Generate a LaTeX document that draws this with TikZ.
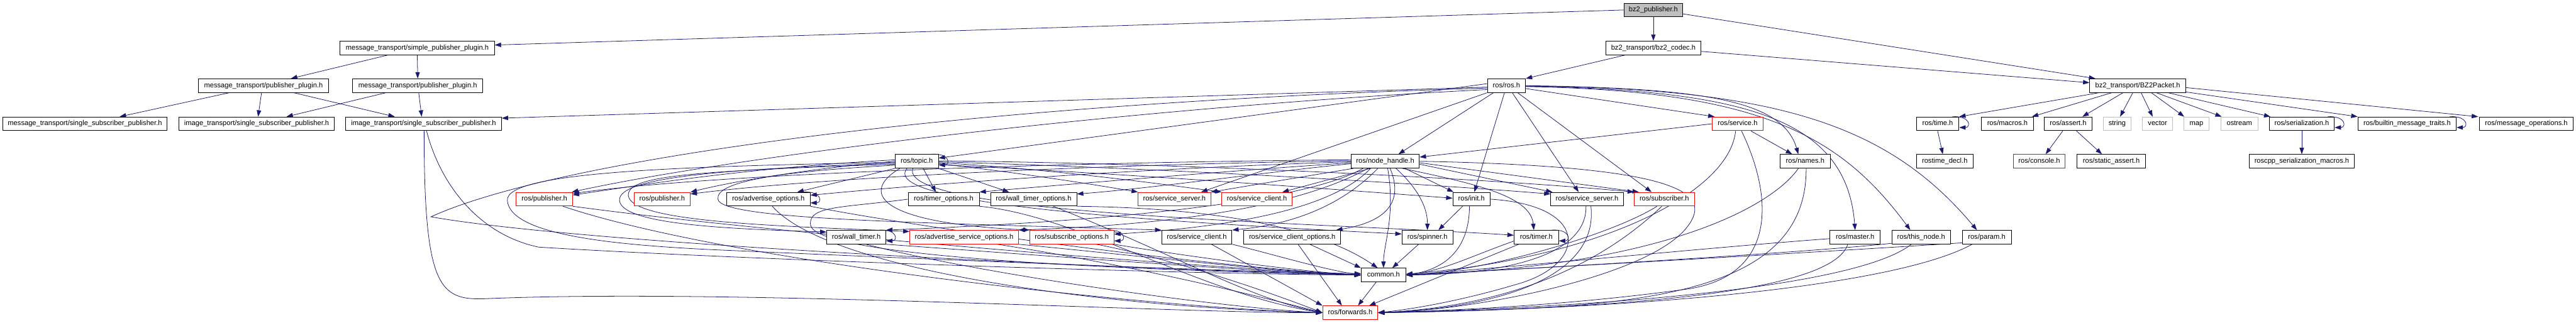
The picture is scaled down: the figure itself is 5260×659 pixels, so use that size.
\documentclass[tikz,border=0pt]{standalone}
\usepackage{fontspec}
\setmainfont{Liberation Sans}
\usetikzlibrary{arrows.meta,calc}
\pgfdeclarelayer{background}
\pgfdeclarelayer{edges}
\pgfsetlayers{background,edges,main}
\definecolor{edgec}{HTML}{191970}
\definecolor{gborder}{HTML}{BFBFBF}
\newcommand\fs{\fontsize{14.3pt}{17pt}\selectfont}
\newcommand\selfloop[1]{\draw[e] ($(#1.north east)+(-14,0)$) .. controls +(38,-2) and +(24,0) .. ($(#1.south east)+(0,-7)$);}
\tikzset{
  box/.style={draw=black, line width=1.1pt, fill=white, minimum height=28pt, inner sep=0pt, font=\fs, text height=10.3pt, text depth=3pt},
  rbox/.style={box, draw=red},
  gbox/.style={box, draw=gborder},
  e/.style={draw=edgec, line width=1pt, -{Triangle[length=13pt,width=9pt]}},
}
\begin{document}
\begin{tikzpicture}[x=1pt,y=-1pt]
\begin{pgfonlayer}{background}
\fill[white] (0,0) rectangle (5260,659);
\end{pgfonlayer}
\useasboundingbox (0,0) rectangle (5260,659);
% row 0-2
\node[box, fill=gborder, minimum width=120pt] (bzpub) at (3376,20.4) {bz2\_publisher.h};
\node[box, minimum width=315pt] (simplepp) at (852,98) {message\_transport/simple\_publisher\_plugin.h};
\node[box, minimum width=194pt] (codec) at (3376,98) {bz2\_transport/bz2\_codec.h};
\node[box, minimum width=265pt] (pp1) at (538,175) {message\_transport/publisher\_plugin.h};
\node[box, minimum width=266pt] (pp2) at (853,175) {message\_transport/publisher\_plugin.h};
\node[box, minimum width=78pt] (rosh) at (3076,175) {ros/ros.h};
\node[box, minimum width=196pt] (packet) at (4365,175) {bz2\_transport/BZ2Packet.h};
% row 3
\node[box, minimum width=336pt] (mssp) at (173.4,253) {message\_transport/single\_subscriber\_publisher.h};
\node[box, minimum width=318pt] (issp1) at (524,253) {image\_transport/single\_subscriber\_publisher.h};
\node[box, minimum width=318pt] (issp2) at (865,253) {image\_transport/single\_subscriber\_publisher.h};
\node[rbox, minimum width=103pt] (service) at (3548,253) {ros/service.h};
\node[box, minimum width=87pt] (time) at (3956.5,253) {ros/time.h};
\node[box, minimum width=106pt] (macros) at (4099,253) {ros/macros.h};
\node[box, minimum width=98pt] (assert) at (4223,253) {ros/assert.h};
\node[gbox, minimum width=57pt] (string) at (4323,253) {string};
\node[gbox, minimum width=61pt] (vector) at (4405.5,253) {vector};
\node[gbox, minimum width=51pt] (map) at (4485,253) {map};
\node[gbox, minimum width=76pt] (ostream) at (4572.5,253) {ostream};
\node[box, minimum width=133pt] (serial) at (4700,253) {ros/serialization.h};
\node[box, minimum width=201pt] (builtin) at (4915,253) {ros/builtin\_message\_traits.h};
\node[box, minimum width=192pt] (msgops) at (5158.6,253) {ros/message\_operations.h};
% row 4
\node[box, minimum width=88pt] (topic) at (1872,329.6) {ros/topic.h};
\node[box, minimum width=139.5pt] (nh) at (2828.5,329.6) {ros/node\_handle.h};
\node[box, minimum width=102pt] (names) at (3686,329.6) {ros/names.h};
\node[box, minimum width=116pt] (rostimedecl) at (3971,329.6) {rostime\_decl.h};
\node[rbox, minimum width=106pt] (console) at (4164,329.6) {ros/console.h};
\node[box, minimum width=140pt] (staticassert) at (4311,329.6) {ros/static\_assert.h};
\node[box, minimum width=215pt] (sermacros) at (4700,329.6) {roscpp\_serialization\_macros.h};
% row 5
\node[rbox, minimum width=115pt] (pub1) at (1111.6,407) {ros/publisher.h};
\node[rbox, minimum width=115pt] (pub2) at (1352,407) {ros/publisher.h};
\node[box, minimum width=170.5pt] (advopt) at (1569,407) {ros/advertise\_options.h};
\node[box, minimum width=145pt] (timeropt) at (1927,407) {ros/timer\_options.h};
\node[box, minimum width=176pt] (wtimeropt) at (2110.5,407) {ros/wall\_timer\_options.h};
\node[rbox, minimum width=148pt] (ssrv1) at (2398,407) {ros/service\_server.h};
\node[rbox, minimum width=143.5pt] (scli1) at (2566.5,407) {ros/service\_client.h};
\node[box, minimum width=76pt] (init) at (3004.5,407) {ros/init.h};
\node[box, minimum width=148pt] (ssrv2) at (3240.5,407) {ros/service\_server.h};
\node[rbox, minimum width=123pt] (subscriber) at (3398.3,407) {ros/subscriber.h};
% row 6
\node[box, minimum width=120.5pt] (wtimer) at (1748.5,484.7) {ros/wall\_timer.h};
\node[rbox, minimum width=222pt] (advsrvopt) at (1968.6,484.7) {ros/advertise\_service\_options.h};
\node[rbox, minimum width=172pt] (subopt) at (2188.5,484.7) {ros/subscribe\_options.h};
\node[box, minimum width=143.5pt] (scli2) at (2443.8,484.7) {ros/service\_client.h};
\node[box, minimum width=198pt] (scliopt) at (2638.6,484.7) {ros/service\_client\_options.h};
\node[box, minimum width=104pt] (spinner) at (2914.6,484.7) {ros/spinner.h};
\node[box, minimum width=91pt] (timer) at (3137,484.7) {ros/timer.h};
\node[box, minimum width=103pt] (master) at (3788,484.7) {ros/master.h};
\node[box, minimum width=120pt] (thisnode) at (3922.7,484.7) {ros/this\_node.h};
\node[box, minimum width=100pt] (param) at (4056.7,484.7) {ros/param.h};
% row 7-8
\node[box, minimum width=91pt] (common) at (2825,562) {common.h};
\node[rbox, minimum width=112.5pt] (fwd) at (2757,639) {ros/forwards.h};

\begin{pgfonlayer}{edges}
% ---- top edges
\draw[e] (bzpub.west) -- ($(simplepp.east)+(0,-6)$);
\draw[e] (bzpub.south) -- (codec.north);
\draw[e] ($(bzpub.east)+(0,8)$) -- ($(packet.north west)+(12,0)$);
\draw[e] ($(codec.south west)+(40,0)$) -- (rosh.north east);
\draw[e] ($(codec.east)+(0,7)$) -- ($(packet.west)+(0,-6)$);
\draw[e] ($(simplepp.south)+(-60,0)$) -- ($(pp1.north)+(56,0)$);
\draw[e] (simplepp.south) -- (pp2.north);
\draw[e] ($(pp1.south)+(-70,0)$) -- ($(mssp.north)+(71,0)$);
\draw[e] ($(pp1.south)+(-4,0)$) -- ($(issp1.north)+(3,0)$);
\draw[e] ($(pp1.south)+(62,0)$) -- ($(issp2.north)+(-59,0)$);
\draw[e] ($(pp2.south)+(-65,0)$) -- ($(issp1.north)+(61,0)$);
\draw[e] ($(pp2.south)+(2,0)$) -- ($(issp2.north)+(-4,0)$);
\draw[e] ($(rosh.west)+(0,3)$) -- ($(issp2.north east)+(0,3)$);
% ---- BZ2Packet
\draw[e] ($(packet.south)+(-79,0)$) -- (time.north east);
\draw[e] ($(packet.south)+(-53,0)$) -- ($(macros.north)+(50,0)$);
\draw[e] ($(packet.south)+(-30,0)$) -- ($(assert.north)+(29,0)$);
\draw[e] ($(packet.south)+(-10,0)$) -- ($(string.north)+(6,0)$);
\draw[e] ($(packet.south)+(7,0)$) -- ($(vector.north)+(-10,0)$);
\draw[e] ($(packet.south)+(28,0)$) -- ($(map.north)+(-25,0)$);
\draw[e] ($(packet.south)+(38,0)$) -- ($(ostream.north)+(-36,0)$);
\draw[e] ($(packet.south)+(62,0)$) -- ($(serial.north west)+(3,0)$);
\draw[e] ($(packet.south east)+(-3,-2)$) -- (builtin.north west);
\draw[e] ($(packet.east)+(0,4)$) -- ($(msgops.north west)+(-2,0)$);
\selfloop{time}
\draw[e] (time.south) -- ($(rostimedecl.north)+(-4,0)$);
\draw[e] ($(assert.south)+(-11,0)$) -- ($(console.north)+(13,0)$);
\draw[e] ($(assert.south)+(17,0)$) -- ($(staticassert.north)+(-19,0)$);
\selfloop{serial}
\draw[e] (serial.south) -- (sermacros.north);
\selfloop{builtin}
% ---- ros.h
\draw[e] ($(rosh.south west)+(13,0)$) -- ($(nh.north)+(27,0)$);
\draw[e] ($(rosh.south)+(-4,0)$) -- ($(init.north)+(6,0)$);
\draw[e] ($(rosh.south)+(12,0)$) -- ($(ssrv2.north)+(-17,0)$);
\draw[e] ($(rosh.south)+(23,0)$) -- ($(subscriber.north)+(-26,0)$);
\draw[e] ($(rosh.east)+(0,6)$) -- ($(service.north west)+(5,0)$);
\draw[e] (rosh.east) .. controls (3480,180) and (3640,205) .. ($(names.north)+(-14,0)$);
\draw[e] ($(rosh.east)+(0,1)$) .. controls (3560,185) and (3770,240) .. (master.north);
\draw[e] ($(rosh.east)+(0,2)$) .. controls (3600,185) and (3760,280) .. ($(thisnode.north)+(-22,0)$);
\draw[e] ($(rosh.east)+(0,1)$) .. controls (3640,180) and (3860,260) .. ($(param.north)+(-20,0)$);
\draw[e] ($(rosh.west)+(0,-4)$) -- ($(topic.north east)+(0,8)$);
\draw[e] (rosh.south west) -- ($(ssrv1.north east)+(-20,0)$);
\draw[e] ($(rosh.west)+(0,8)$) .. controls (2300,220) and (1500,320) .. ($(pub1.north east)+(-2,0)$);
\draw[e] ($(rosh.west)+(0,5)$) .. controls (2000,210) and (1150,320) .. (880,443) .. controls (1200,500) and (2300,550) .. (common.west);
% ---- topic.h
\selfloop{topic}
\draw[e] ($(topic.south)+(13,0)$) -- ($(timeropt.north)+(-16,0)$);
\draw[e] (topic.south east) -- ($(wtimeropt.north)+(-50,0)$);
\draw[e] ($(topic.east)+(0,5)$) .. controls (2100,355) and (2250,380) .. (ssrv1.north west);
\draw[e] ($(topic.east)+(0,3)$) .. controls (2150,345) and (2400,380) .. (scli1.north west);
\draw[e] (topic.south west) -- ($(advopt.north)+(59,0)$);
\draw[e] ($(topic.west)+(0,-3)$) .. controls (1500,345) and (1300,380) .. ($(pub1.north east)+(0,6)$);
\draw[e] (topic.west) .. controls (1650,345) and (1500,370) .. (pub2.north east);
\draw[e] ($(topic.west)+(0,4)$) .. controls (1500,345) and (1260,360) .. (1265,410) .. controls (1270,460) and (1500,468) .. ($(wtimer.north west)+(0,4)$);
\draw[e] ($(topic.west)+(0,6)$) .. controls (1400,350) and (1280,360) .. (1283,400) .. controls (1290,455) and (1600,462) .. ($(advsrvopt.north west)+(0,3)$);
\draw[e] ($(topic.west)+(0,8)$) .. controls (1600,350) and (1460,370) .. (1466,407) .. controls (1470,450) and (1900,455) .. (scli2.north west);
\draw[e] ($(topic.south west)+(10,0)$) .. controls (1760,390) and (1780,455) .. (subopt.north west);
\draw[e] ($(topic.south)+(-20,0)$) .. controls (1790,420) and (2400,455) .. ($(spinner.north west)+(0,8)$);
\draw[e] ($(topic.south)+(-8,0)$) .. controls (1830,440) and (2700,455) .. ($(timer.west)+(0,-4)$);
\draw[e] ($(topic.east)+(0,7)$) .. controls (2300,355) and (2700,385) .. ($(init.west)+(0,-2)$);
\draw[e] ($(topic.east)+(0,1)$) .. controls (2400,345) and (2900,375) .. ($(ssrv2.north west)+(0,4)$);
\draw[e] ($(topic.east)+(0,-1)$) .. controls (2500,335) and (3100,370) .. (subscriber.north west);
\draw[e] ($(topic.west)+(0,2)$) .. controls (1400,340) and (1030,350) .. (1036,410) .. controls (1042,480) and (1250,500) .. (1450,510) .. controls (1900,530) and (2500,555) .. ($(common.west)+(0,-3)$);
% ---- node_handle.h
\draw[e] ($(nh.west)+(0,-3)$) .. controls (2300,330) and (1500,350) .. ($(pub1.north east)+(0,3)$);
\draw[e] ($(nh.west)+(0,-1)$) .. controls (2300,335) and (1700,360) .. ($(pub2.north east)+(0,4)$);
\draw[e] ($(nh.west)+(0,1)$) .. controls (2300,345) and (1850,380) .. ($(advopt.east)+(0,-8)$);
\draw[e] ($(nh.west)+(0,3)$) .. controls (2500,350) and (2200,375) .. (timeropt.north east);
\draw[e] ($(nh.west)+(0,5)$) .. controls (2600,350) and (2350,385) .. ($(wtimeropt.north east)+(0,4)$);
\draw[e] ($(nh.south west)+(5,0)$) -- (ssrv1.north east);
\draw[e] ($(nh.south west)+(40,0)$) -- ($(scli1.north)+(52,0)$);
\draw[e] ($(nh.south west)+(25,0)$) .. controls (2650,420) and (2200,455) .. (wtimer.north east);
\draw[e] ($(nh.south west)+(35,0)$) .. controls (2620,440) and (2300,462) .. (advsrvopt.north east);
\draw[e] ($(nh.south)+(-30,0)$) .. controls (2700,450) and (2400,470) .. ($(subopt.east)+(0,-6)$);
\draw[e] ($(nh.south)+(-15,0)$) .. controls (2720,440) and (2600,462) .. (scli2.north east);
\draw[e] ($(nh.south)+(10,0)$) .. controls (2870,420) and (2820,455) .. ($(scliopt.north east)+(-10,0)$);
\draw[e] ($(nh.south)+(22,0)$) .. controls (2890,380) and (2915,420) .. (spinner.north);
\draw[e] ($(nh.south)+(5,0)$) .. controls (2850,440) and (2825,500) .. (common.north);
\draw[e] ($(nh.south east)+(-30,0)$) -- ($(init.north west)+(2,0)$);
\draw[e] ($(nh.south east)+(-35,0)$) .. controls (3010,375) and (3125,400) .. ($(timer.north)+(-5,0)$);
\draw[e] ($(nh.east)+(0,6)$) -- ($(ssrv2.north west)+(4,0)$);
\draw[e] ($(nh.east)+(0,3)$) -- ($(subscriber.north west)+(10,0)$);
\draw[e] (nh.east) .. controls (3460,340) and (3500,400) .. (3440,470) .. controls (3350,570) and (3000,635) .. (fwd.east);
% ---- service.h, names
\draw[e] (service.west) -- ($(nh.north east)+(0,6)$);
\draw[e] ($(service.south east)+(-25,0)$) -- ($(names.north west)+(25,0)$);
\draw[e] ($(service.south)+(-4,0)$) .. controls (3530,400) and (3250,530) .. ($(common.east)+(0,-2)$);
\draw[e] ($(service.south)+(8,0)$) .. controls (3620,400) and (3630,560) .. (3450,590) .. controls (3200,625) and (2950,635) .. (fwd.east);
\draw[e] ($(names.south)+(-14,0)$) .. controls (3620,420) and (3400,545) .. (common.east);
\draw[e] ($(names.south)+(2,0)$) .. controls (3690,620) and (3300,630) .. (fwd.east);
% ---- master, this_node, param
\draw[e] ($(master.west)+(0,3)$) .. controls (3500,505) and (3100,545) .. (common.east);
\draw[e] ($(master.south)+(-15,0)$) .. controls (3740,600) and (3300,630) .. (fwd.east);
\draw[e] ($(thisnode.south west)+(0,-2)$) .. controls (3700,515) and (3200,545) .. (common.east);
\draw[e] ($(thisnode.south)+(-20,0)$) .. controls (3800,580) and (3350,625) .. (fwd.east);
\draw[e] ($(param.south west)+(0,-3)$) .. controls (3800,510) and (3200,545) .. (common.east);
\draw[e] ($(param.south)+(-30,0)$) .. controls (3880,580) and (3400,630) .. (fwd.east);
% ---- init, spinner, timer, service_server, subscriber
\draw[e] ($(init.south)+(-18,0)$) -- ($(spinner.north east)+(-30,0)$);
\draw[e] ($(init.south)+(-4,0)$) .. controls (3000,510) and (2950,550) .. (common.east);
\draw[e] (init.east) .. controls (3250,420) and (3240,540) .. (3100,580) .. controls (3000,610) and (2900,630) .. (fwd.east);
\draw[e] ($(spinner.south)+(-18,0)$) -- ($(common.north)+(18,0)$);
\selfloop{timer}
\draw[e] ($(timer.west)+(0,8)$) .. controls (3000,525) and (2950,552) .. (common.east);
\draw[e] ($(timer.south west)+(10,0)$) -- ($(fwd.north east)+(-18,0)$);
\draw[e] ($(ssrv2.south)+(-2,0)$) .. controls (3240,530) and (3050,560) .. (common.east);
\draw[e] ($(ssrv2.south)+(8,0)$) .. controls (3265,570) and (3050,630) .. (fwd.east);
\draw[e] ($(subscriber.south)+(-15,0)$) .. controls (3300,475) and (3050,552) .. (common.east);
\draw[e] ($(subscriber.south)+(-5,0)$) .. controls (3280,530) and (3100,625) .. (fwd.east);
% ---- left side to common / forwards
\draw[e] ($(scliopt.south)+(36,0)$) -- (common.north west);
\draw[e] ($(scliopt.south)+(12,0)$) -- ($(fwd.north)+(-17,0)$);
\draw[e] ($(scli2.south)+(30,0)$) -- (fwd.north west);
\draw[e] (scli2.south east) .. controls (2600,520) and (2700,550) .. (common.west);
\draw[e] ($(subopt.south)+(50,0)$) .. controls (2400,530) and (2600,600) .. (fwd.west);
\draw[e] (subopt.south east) .. controls (2400,520) and (2650,555) .. (common.west);
\selfloop{subopt}
\draw[e] ($(advsrvopt.south)+(68,0)$) .. controls (2300,540) and (2550,600) .. (fwd.west);
\draw[e] (advsrvopt.south east) .. controls (2300,520) and (2600,555) .. (common.west);
\selfloop{wtimer}
\draw[e] (wtimer.south east) .. controls (2100,520) and (2600,558) .. (common.west);
\draw[e] ($(wtimer.south)+(20,0)$) .. controls (2000,560) and (2500,630) .. (fwd.west);
\selfloop{advopt}
\draw[e] ($(advopt.south)+(8,0)$) .. controls (1700,560) and (2300,630) .. (fwd.west);
\draw[e] (advopt.south east) .. controls (1900,470) and (2500,548) .. (common.west);
\draw[e] (timeropt.west) .. controls (1720,425) and (1650,420) .. (1655,460) .. controls (1665,520) and (2200,550) .. (common.west);
\draw[e] (timeropt.south east) .. controls (2200,440) and (2450,600) .. (fwd.west);
\draw[e] (wtimeropt.south east) .. controls (2500,425) and (2700,470) .. ($(common.north)+(-12,0)$);
\draw[e] ($(wtimeropt.south)+(40,0)$) .. controls (2400,520) and (2550,610) .. (fwd.west);
\draw[e] (pub1.south east) .. controls (1600,480) and (2500,550) .. (common.west);
\draw[e] ($(pub1.south)+(38,0)$) .. controls (1500,540) and (2400,632) .. (fwd.west);
\draw[e] ($(issp2.south)+(1,0)$) .. controls (866,600) and (900,615) .. (1000,610) .. controls (1500,590) and (2400,640) .. (fwd.west);
\draw[e] ($(issp2.south)+(6,0)$) .. controls (900,380) and (980,480) .. (1100,505) .. controls (1500,530) and (2400,560) .. (common.west);
\draw[e] ($(common.south)+(-15,0)$) -- ($(fwd.north)+(16,0)$);
\end{pgfonlayer}
\end{tikzpicture}
\end{document}
